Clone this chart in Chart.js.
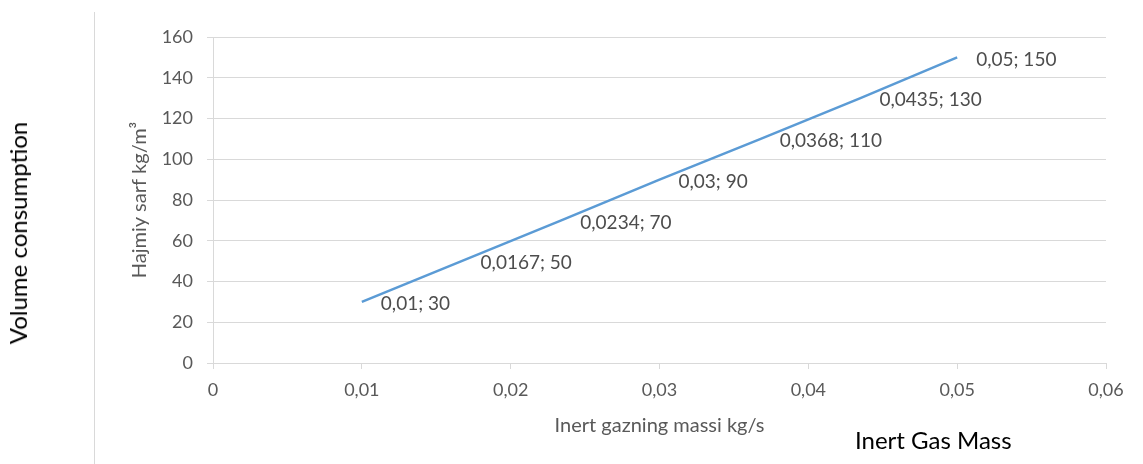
<!DOCTYPE html>
<html>
<head>
<meta charset="utf-8">
<script src="https://cdn.jsdelivr.net/npm/chart.js@4.4.0/dist/chart.umd.min.js"></script>
<style>
  html, body { margin: 0; padding: 0; background: #fff; }
  #wrap { position: relative; width: 1143px; height: 464px; overflow: hidden; }
  #c { position: absolute; left: 0; top: 0; }
  #border { position: absolute; left: 94px; top: 12px; width: 0; height: 460px; border-left: 1px solid #d9d9d9; }
  #vc { position: absolute; left: 18px; top: 233px; transform: translate(-50%, -50%) rotate(-90deg); white-space: nowrap;
        font-family: Lato, "Open Sans", sans-serif; font-size: 24px; color: #000; line-height: 1; }
  #igm { position: absolute; left: 855px; top: 440px; transform: translateY(-50%); white-space: nowrap;
        font-family: Lato, "Open Sans", sans-serif; font-size: 24px; color: #000; line-height: 1; }
</style>
</head>
<body>
<div id="wrap">
  <canvas id="c" width="1143" height="464"></canvas>
  <div id="border"></div>
  <div id="vc">Volume consumption</div>
  <div id="igm">Inert Gas Mass</div>
</div>
<script>
const massValues = [0.01, 0.0167, 0.0234, 0.03, 0.0368, 0.0435, 0.05];
const volumeValues = [30, 50, 70, 90, 110, 130, 150];
const xTicks = [0, 0.01, 0.02, 0.03, 0.04, 0.05, 0.06];
const yTicks = [0, 20, 40, 60, 80, 100, 120, 140, 160];
const xTitle = 'Inert gazning massi kg/s';
const yTitle = 'Hajmiy sarf kg/m\u00B3';

const fmt = v => String(v).replace('.', ',');
const FONT = 'Lato, "Open Sans", sans-serif';
const GRAY = '#595959';
const GRID = '#d9d9d9';

const labelPlugin = {
  id: 'pointLabels',
  afterDatasetsDraw(chart) {
    const ctx = chart.ctx;
    const meta = chart.getDatasetMeta(0);
    ctx.save();
    ctx.font = '19px ' + FONT;
    ctx.fillStyle = '#4d4d4d';
    ctx.textAlign = 'left';
    ctx.textBaseline = 'middle';
    meta.data.forEach((pt, i) => {
      ctx.fillText(fmt(massValues[i]) + '; ' + fmt(volumeValues[i]), pt.x + 19, pt.y + 2);
    });
    ctx.restore();
  }
};

new Chart(document.getElementById('c'), {
  type: 'scatter',
  data: {
    datasets: [{
      data: massValues.map((x, i) => ({ x: x, y: volumeValues[i] })),
      showLine: true,
      borderColor: '#5B9BD5',
      borderWidth: 2.5,
      pointRadius: 0,
      pointHoverRadius: 0,
      tension: 0
    }]
  },
  plugins: [labelPlugin],
  options: {
    responsive: false,
    devicePixelRatio: 1,
    animation: false,
    layout: { padding: { left: 125, right: 37, top: 37, bottom: 0 } },
    plugins: { legend: { display: false }, tooltip: { enabled: false } },
    scales: {
      x: {
        type: 'linear',
        min: 0, max: 0.06,
        afterBuildTicks: s => { s.ticks = xTicks.map(v => ({ value: v })); },
        afterFit: s => { s.height = 101; },
        ticks: { callback: v => fmt(Number(v.toFixed(4))), color: GRAY, font: { family: FONT, size: 18 }, padding: 10, maxRotation: 0 },
        grid: { drawOnChartArea: false, drawTicks: true, tickLength: 6, color: GRID },
        border: { color: GRID, width: 1 },
        title: { display: true, text: xTitle, color: GRAY, font: { family: FONT, size: 20 }, padding: { top: 0, bottom: 26 } }
      },
      y: {
        min: 0, max: 160,
        afterBuildTicks: s => { s.ticks = yTicks.map(v => ({ value: v })); },
        afterFit: s => { s.width = 88; },
        ticks: { color: GRAY, font: { family: FONT, size: 18 }, padding: 14 },
        grid: { color: GRID, tickLength: 6, lineWidth: 1 },
        border: { color: GRID, width: 1 },
        title: { display: true, text: yTitle, color: GRAY, font: { family: FONT, size: 20 }, padding: { top: 3, bottom: 0 } }
      }
    }
  }
});
</script>
</body>
</html>
